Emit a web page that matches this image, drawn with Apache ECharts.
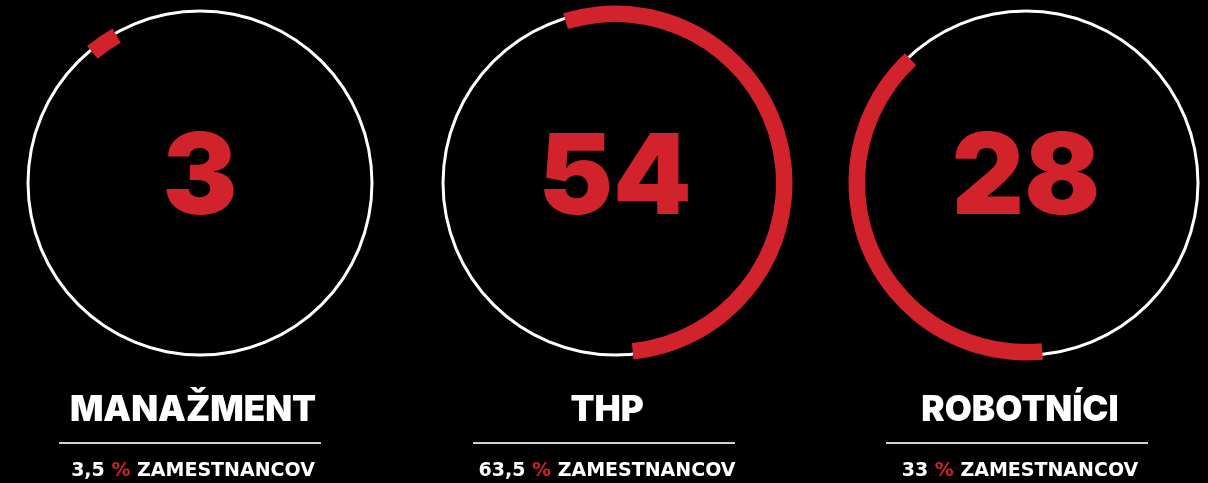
<!DOCTYPE html>
<html>
<head>
<meta charset="utf-8">
<script src="https://cdn.jsdelivr.net/npm/echarts@6/dist/echarts.min.js"></script>
<style>
  html, body { margin: 0; padding: 0; background: #000; }
  #chart { width: 1208px; height: 483px; }
</style>
</head>
<body>
<div id="chart"></div>
<script>
// data
var categories = ['MANAŽMENT', 'THP', 'ROBOTNÍCI'];
var headcounts = [3, 54, 28];
var shares = ['3,5', '63,5', '33'];
// red arc: where it starts (deg, clockwise from 12 o'clock) and how long it is
var arcStart = [320.5, 343, 174.5];
var arcSpan = [10, 191, 142.5];

var RED = '#d2222b';

function initStaffChart() {
    var _chart = echarts.init(document.getElementById('chart'));
    var centersX = [200, 615, 1026];
    var centerY = 183;
    var textX = [193, 607, 1020];
    var lineX = [190, 604, 1017];

    var series = [];
    var graphic = [];
    for (var i = 0; i < categories.length; i++) {
        // white ring
        series.push({
            type: 'pie',
            silent: true,
            center: [centersX[i], centerY],
            radius: [170.5, 173.5],
            label: {show: false},
            labelLine: {show: false},
            emphasis: {disabled: true},
            itemStyle: {color: '#fff', borderWidth: 0},
            data: [{value: 1, name: categories[i]}],
            z: 1
        });
        // red arc
        series.push({
            type: 'pie',
            silent: true,
            center: [centersX[i], centerY],
            radius: [161, 177.5],
            startAngle: 90 - arcStart[i],
            clockwise: true,
            label: {show: false},
            labelLine: {show: false},
            emphasis: {disabled: true},
            itemStyle: {borderWidth: 0},
            data: [
                {value: arcSpan[i], itemStyle: {color: RED}},
                {value: 360 - arcSpan[i], itemStyle: {color: 'rgba(0,0,0,0)'}}
            ],
            z: 2
        });

        graphic.push({
            type: 'text',
            x: centersX[i],
            y: 180,
            style: {
                text: String(headcounts[i]),
                fill: RED,
                font: '900 112px Inter',
                align: 'center',
                verticalAlign: 'middle'
            }
        });
        graphic.push({
            type: 'text',
            x: textX[i],
            y: 410,
            style: {
                text: categories[i],
                fill: '#fff',
                font: '900 35px Inter',
                align: 'center',
                verticalAlign: 'middle'
            }
        });
        graphic.push({
            type: 'line',
            shape: {x1: lineX[i] - 131, y1: 443, x2: lineX[i] + 131, y2: 443},
            style: {stroke: '#d0d0d0', lineWidth: 2}
        });
        graphic.push({
            type: 'text',
            x: textX[i],
            y: 471,
            style: {
                text: shares[i] + ' {p|%} ZAMESTNANCOV',
                fill: '#fff',
                font: 'bold 19px "DejaVu Sans"',
                align: 'center',
                verticalAlign: 'middle',
                rich: {
                    p: {fill: RED, font: 'bold 19px "DejaVu Sans"'}
                }
            }
        });
    }

    var option = {
        backgroundColor: '#000',
        animation: false,
        series: series,
        graphic: graphic
    };
    _chart.setOption(option);
    window.addEventListener('resize', function () {
        _chart.resize();
    });
}

initStaffChart();
</script>
</body>
</html>
